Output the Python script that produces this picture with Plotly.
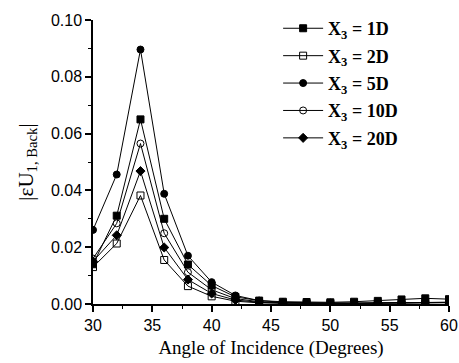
import plotly.graph_objects as go

angles = [30, 32, 34, 36, 38, 40, 42, 44, 46, 48, 50, 52, 54, 56, 58, 60]
u_1d  = [0.0140, 0.0311, 0.0650, 0.0300, 0.0139, 0.0065, 0.0025, 0.0012, 0.0008, 0.0007, 0.0006, 0.0008, 0.0011, 0.0016, 0.0020, 0.0017]
u_2d  = [0.0130, 0.0213, 0.0382, 0.0155, 0.0063, 0.0027, 0.0010, 0.0004, 0.0003, 0.0002, 0.0002, 0.0002, 0.0003, 0.0004, 0.0005, 0.0005]
u_5d  = [0.0261, 0.0456, 0.0896, 0.0388, 0.0170, 0.0077, 0.0030, 0.0012, 0.0006, 0.0004, 0.0003, 0.0003, 0.0004, 0.0005, 0.0006, 0.0006]
u_10d = [0.0160, 0.0284, 0.0565, 0.0249, 0.0112, 0.0050, 0.0019, 0.0008, 0.0004, 0.0003, 0.0002, 0.0003, 0.0004, 0.0005, 0.0006, 0.0006]
u_20d = [0.0150, 0.0242, 0.0468, 0.0199, 0.0086, 0.0037, 0.0014, 0.0006, 0.0003, 0.0002, 0.0002, 0.0002, 0.0003, 0.0004, 0.0005, 0.0005]

series_names = ["X<sub>3</sub> = 1D", "X<sub>3</sub> = 2D", "X<sub>3</sub> = 5D",
                "X<sub>3</sub> = 10D", "X<sub>3</sub> = 20D"]
series_vals = [u_1d, u_2d, u_5d, u_10d, u_20d]
symbols = ["square", "square-open", "circle", "circle-open", "diamond"]

x_ticks = [30, 35, 40, 45, 50, 55, 60]
y_ticks = [0.00, 0.02, 0.04, 0.06, 0.08, 0.10]
y_tick_labels = ["0.00", "0.02", "0.04", "0.06", "0.08", "0.10"]

fig = go.Figure()
for i, (name, vals, sym) in enumerate(zip(series_names, series_vals, symbols)):
    fig.add_trace(go.Scatter(
        x=angles, y=vals, mode="lines+markers", name="<b>" + name + "</b>",
        legendgroup="g%d" % i,
        line=dict(color="black", width=1),
        marker=dict(symbol=sym, size=7, color="black",
                    line=dict(color="black", width=1)),
    ))

tickfont = dict(family="Liberation Sans, Arial, sans-serif", size=16, color="black")
fig.update_layout(
    width=459, height=363,
    margin=dict(l=93, r=10, t=16, b=59),
    plot_bgcolor="white", paper_bgcolor="white",
    showlegend=True,
    legend=dict(x=0.52, y=1.035, xanchor="left", yanchor="top",
                font=dict(family="Liberation Serif, Times New Roman, serif", size=18, color="black"),
                bgcolor="rgba(0,0,0,0)", tracegroupgap=1, itemwidth=40),
    xaxis=dict(range=[30, 60], tickvals=x_ticks, ticktext=[str(v) for v in x_ticks],
               showgrid=False, zeroline=False, showline=True, linecolor="black", linewidth=1.5,
               ticks="outside", ticklen=6, tickwidth=1.5, tickcolor="black", tickfont=tickfont,
               minor=dict(dtick=2.5, ticks="outside", ticklen=3, tickcolor="black", tickwidth=1),
               automargin=False,
               title=dict(text="Angle of Incidence (Degrees)", standoff=8,
                          font=dict(family="Liberation Serif, Times New Roman, serif", size=19, color="black"))),
    yaxis=dict(range=[0, 0.1], tickvals=y_ticks, ticktext=y_tick_labels,
               showgrid=False, zeroline=False, showline=True, linecolor="black", linewidth=1.5,
               ticks="outside", ticklen=6, tickwidth=1.5, tickcolor="black", tickfont=tickfont,
               minor=dict(dtick=0.01, ticks="outside", ticklen=3, tickcolor="black", tickwidth=1),
               automargin=False,
               title=dict(text="|εU<sub>1, Back</sub>|", standoff=12,
                          font=dict(family="Liberation Serif, Times New Roman, serif", size=21, color="black"))),
)

fig.write_html("out.html")
